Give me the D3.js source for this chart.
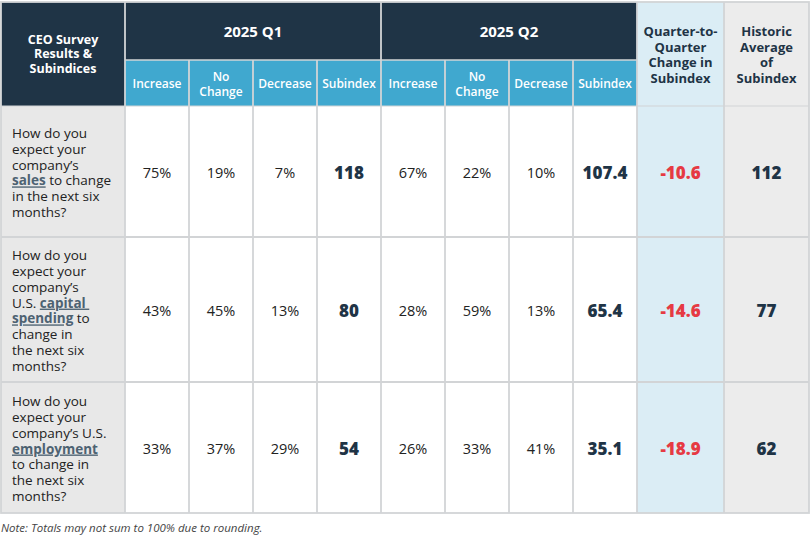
<!DOCTYPE html>
<html>
<head>
<meta charset="utf-8">
<script src="https://cdn.jsdelivr.net/npm/d3@7"></script>
<style>
  html, body { margin: 0; padding: 0; background: #fff; }
  svg { display: block; font-family: "Open Sans", "Noto Sans", sans-serif; }
</style>
</head>
<body>
<div id="chart"></div>
<script>
// Question text, broken into lines as in the source; [..] marks the underlined keyword
const questionLines = [
  ['How do you', 'expect your', 'company\u2019s', '[sales] to change', 'in the next six', 'months?'],
  ['How do you', 'expect your', 'company\u2019s', 'U.S. [capital ]', '[spending] to', 'change in', 'the next six', 'months?'],
  ['How do you', 'expect your', 'company\u2019s U.S.', '[employment]', 'to change in', 'the next six', 'months?']
];
const cornerLabel = ['CEO Survey', 'Results &', 'Subindices'];
const quarters = ['2025 Q1', '2025 Q2'];
const subColumns = [['Increase'], ['No', 'Change'], ['Decrease'], ['Subindex']];
const changeHeader = ['Quarter-to-', 'Quarter', 'Change in', 'Subindex'];
const historicHeader = ['Historic', 'Average', 'of', 'Subindex'];

const q1Increase = [75, 43, 33];
const q1NoChange = [19, 45, 37];
const q1Decrease = [7, 13, 29];
const q1Subindex = [118, 80, 54];
const q2Increase = [67, 28, 26];
const q2NoChange = [22, 59, 33];
const q2Decrease = [10, 13, 41];
const q2Subindex = [107.4, 65.4, 35.1];
const qoqChange = [-10.6, -14.6, -18.9];
const historicAvg = [112, 77, 62];

const note = 'Note: Totals may not sum to 100% due to rounding.';

const W = 810, H = 542;
const navy = '#1f3446', teal = '#40a8cf', grid = '#d2d4d6';
const loc = d3.formatLocale({ decimal: '.', thousands: ',', grouping: [3], currency: ['$', ''], minus: '-' });
const pct = d => d + '%';
const fInt = loc.format('d'), f1 = loc.format('.1f');

// column layout
const colKeys = ['q', 'q1i', 'q1n', 'q1d', 'q1s', 'q2i', 'q2n', 'q2d', 'q2s', 'chg', 'hist'];
const colWidths = [124, 64, 64, 64, 64, 64, 64, 64, 64, 87, 85];
const colStart = [0, ...d3.cumsum(colWidths)].map(v => v + 1);
const x = d3.scaleOrdinal().domain(colKeys).range(colStart);
const w = d3.scaleOrdinal().domain(colKeys).range(colWidths);

const headTop = 2, head1 = 58, head2 = 46;
const rowHeights = [131, 145, 131];
const bodyTop = headTop + head1 + head2;
const y = d3.scaleOrdinal().domain([0, 1, 2]).range([0, ...d3.cumsum(rowHeights)].map(v => v + bodyTop));
const h = d3.scaleOrdinal().domain([0, 1, 2]).range(rowHeights);
const tableRight = colStart[colStart.length - 1];
const tableBottom = bodyTop + d3.sum(rowHeights);

const svg = d3.select('#chart').append('svg').attr('width', W).attr('height', H);

function rect(x0, y0, ww, hh, fill) {
  svg.append('rect').attr('x', x0).attr('y', y0).attr('width', ww).attr('height', hh).attr('fill', fill);
}
function lines(arr, cx, cy, lh, opts) {
  const t = svg.append('text')
    .attr('text-anchor', opts.anchor || 'middle')
    .attr('font-size', opts.size).attr('font-weight', opts.weight || 400)
    .attr('fill', opts.fill);
  const y0 = cy - (arr.length - 1) * lh / 2;
  arr.forEach((s, i) => {
    t.append('tspan').attr('x', cx).attr('y', y0 + i * lh).attr('dy', '0.35em').text(s);
  });
  return t;
}

// backgrounds
rect(x('q'), headTop, w('q'), head1 + head2, navy);
quarters.forEach((q, qi) => {
  const k0 = qi ? 'q2i' : 'q1i';
  rect(x(k0), headTop, 256, head1, navy);
  rect(x(k0), headTop + head1, 256, head2, teal);
});
rect(x('chg'), headTop, w('chg'), tableBottom - headTop, '#dbedf5');
rect(x('hist'), headTop, w('hist'), tableBottom - headTop, '#ececec');
rect(x('q'), bodyTop, w('q'), tableBottom - bodyTop, '#e8e8e8');

// grid lines
const vLines = colStart.slice(1, -1);
vLines.forEach((vx, i) => {
  const top = (i === 0 || i === 4 || i >= 8) ? headTop : headTop + head1;
  svg.append('line').attr('x1', vx).attr('x2', vx).attr('y1', top).attr('y2', tableBottom)
    .attr('stroke', grid).attr('stroke-width', 1.8);
});
svg.append('line').attr('x1', x('q1i')).attr('x2', x('chg')).attr('y1', headTop + head1).attr('y2', headTop + head1)
  .attr('stroke', grid).attr('stroke-width', 1.5);
[1, 2].forEach(r => {
  svg.append('line').attr('x1', 1).attr('x2', tableRight).attr('y1', y(r)).attr('y2', y(r))
    .attr('stroke', grid).attr('stroke-width', 1.8);
});
svg.append('line').attr('x1', 1).attr('x2', tableRight).attr('y1', bodyTop).attr('y2', bodyTop)
  .attr('stroke', grid).attr('stroke-width', 1.2);
svg.append('rect').attr('x', 1).attr('y', headTop).attr('width', tableRight - 1).attr('height', tableBottom - headTop)
  .attr('fill', 'none').attr('stroke', grid).attr('stroke-width', 1.8);

// header text
lines(cornerLabel, x('q') + w('q') / 2, 54, 14.5, { size: 12.5, weight: 700, fill: '#fff' });
quarters.forEach((q, qi) => {
  const k0 = qi ? 'q2i' : 'q1i';
  lines([q], x(k0) + 128, headTop + head1 / 2 + 1, 15, { size: 15, weight: 700, fill: '#fff' });
  subColumns.forEach((sc, si) => {
    const k = colKeys[1 + qi * 4 + si];
    lines(sc, x(k) + w(k) / 2, headTop + head1 + head2 / 2 + 1, 15, { size: 12, weight: 600, fill: '#fff' });
  });
});
lines(changeHeader, x('chg') + w('chg') / 2, 55, 15.8, { size: 13, weight: 700, fill: navy });
lines(historicHeader, x('hist') + w('hist') / 2, 55, 15.8, { size: 13, weight: 700, fill: navy });

// question column
questionLines.forEach((ql, r) => {
  const t = svg.append('text').attr('font-size', 13.5).attr('fill', '#222');
  const lh = 15.8;
  const y0 = y(r) + h(r) / 2 - (ql.length - 1) * lh / 2;
  ql.forEach((s, i) => {
    const parts = s.split(/(\[[^\]]*\])/).filter(p => p);
    parts.forEach((p, j) => {
      const kw = p.startsWith('[');
      const sp = t.append('tspan').text(kw ? p.slice(1, -1) : p);
      if (j === 0) sp.attr('x', 12).attr('y', y0 + i * lh + 6);
      if (kw) sp.attr('font-weight', 700).attr('fill', '#4d6272').attr('text-decoration', 'underline');
    });
  });
});

// body values
const valueCols = [
  ['q1i', q1Increase, pct], ['q1n', q1NoChange, pct], ['q1d', q1Decrease, pct], ['q1s', q1Subindex, fInt],
  ['q2i', q2Increase, pct], ['q2n', q2NoChange, pct], ['q2d', q2Decrease, pct], ['q2s', q2Subindex, f1],
  ['chg', qoqChange, f1], ['hist', historicAvg, fInt]
];
valueCols.forEach(([k, vals, fmt]) => {
  const bold = k.endsWith('s') || k === 'chg' || k === 'hist';
  vals.forEach((v, r) => {
    lines([fmt(v)], x(k) + w(k) / 2, y(r) + h(r) / 2 + 1.5, 15, {
      size: bold ? 17 : 14.5,
      weight: bold ? 800 : 400,
      fill: k === 'chg' ? '#e63a43' : (bold ? navy : '#222')
    });
  });
});

svg.append('text').attr('x', 1).attr('y', 532).attr('font-size', 11.5).attr('font-style', 'italic')
  .attr('fill', '#444').text(note);
</script>
</body>
</html>
